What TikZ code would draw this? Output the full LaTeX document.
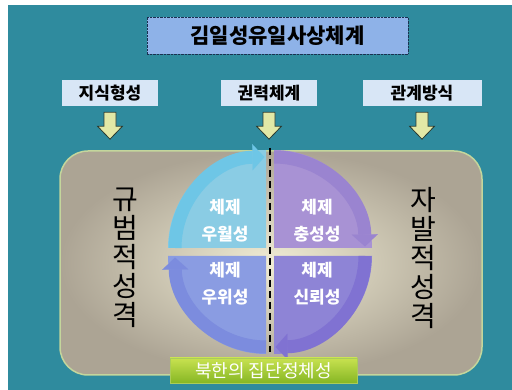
\documentclass[tikz,border=0pt]{standalone}
\usepackage{fontspec}
\setmainfont{Noto Sans CJK KR}
\usetikzlibrary{positioning,arrows.meta,calc}

\definecolor{sea}{HTML}{2F8B9E}
\definecolor{titlefill}{HTML}{8EB2E8}
\definecolor{titleline}{HTML}{1A3050}
\definecolor{labfill}{HTML}{D8E6F6}
\definecolor{arrfill}{HTML}{E2E8A6}
\definecolor{arrline}{HTML}{2A3A30}
\definecolor{frameline}{HTML}{C4D69C}
\definecolor{tlfill}{HTML}{8ACCE4}
\definecolor{tlrim}{HTML}{6EC6E6}
\definecolor{trfill}{HTML}{A892D4}
\definecolor{trrim}{HTML}{9A84D0}
\definecolor{brfill}{HTML}{8E84D6}
\definecolor{brrim}{HTML}{8072D2}
\definecolor{blfill}{HTML}{8A9CE2}
\definecolor{blrim}{HTML}{7C8CDE}

\tikzset{
  titlebox/.style={fill=titlefill, draw=titleline, densely dotted, minimum width=261, minimum height=37,
    inner sep=0, font=\fontsize{21}{21}\selectfont\bfseries},
  lab/.style={fill=labfill, minimum height=26, inner sep=0, font=\fontsize{17}{17}\selectfont\bfseries},
  blockarrow/.style={fill=arrfill, draw=arrline, line width=0.8, line join=miter},
  ring/.style={line width=13, -{Triangle[length=12,width=26,line width=0.1pt]}},
  quadtext/.style={text=white, align=center, font=\fontsize{17}{27}\selectfont\bfseries},
  sidetext/.style={align=center, font=\fontsize{28}{29}\selectfont},
  dashline/.style={line width=2.5, dash pattern=on 7 off 4},
}

\begin{document}
\begin{tikzpicture}[x=1pt,y=1pt]
  \useasboundingbox (0,0) rectangle (512,390);
  \fill[white] (0,0) rectangle (512,390);
  \fill[sea] (8,0) rectangle (512,385);

  % top row
  \node[titlebox] (title) at (277.5,354.5) {김일성유일사상체계};
  \node[lab, minimum width=96] (kn) at (110,297) {지식형성};
  \node[lab, minimum width=96] (pw) at (269,297) {권력체계};
  \node[lab, minimum width=119] (rl) at (422,297) {관계방식};
  \coordinate[below=6 of kn] (akn);
  \coordinate[below=6 of pw] (apw);
  \coordinate[below=6 of rl] (arl);
  \foreach \a in {akn,apw,arl}
    \draw[blockarrow] (\a) ++(-6,0) -- ++(12,0) -- ++(0,-14) -- ++(6.5,0) -- ++(-12.5,-13)
      -- ++(-12.5,13) -- ++(6.5,0) -- cycle;

  % frame
  \node[draw=frameline, line width=1.5, rounded corners=28, minimum width=422, minimum height=224,
    inner color={rgb,255:red,240;green,236;blue,212}, outer color={rgb,255:red,172;green,164;blue,148}]
    (frame) at (271,127) {};

  % circle of four parts
  \coordinate (c) at (270,138);
  \fill[tlfill] ([shift={(-4,4)}]c) -- ++(-98,0) arc[start angle=180,end angle=90,radius=98] -- cycle;
  \fill[trfill] ([shift={(4,4)}]c) -- ++(0,98) arc[start angle=90,end angle=0,radius=98] -- cycle;
  \fill[brfill] ([shift={(4,-4)}]c) -- ++(98,0) arc[start angle=0,end angle=-90,radius=98] -- cycle;
  \fill[blfill] ([shift={(-4,-4)}]c) -- ++(0,-98) arc[start angle=-90,end angle=-180,radius=98] -- cycle;
  \draw[ring, tlrim] ([shift={(-4,4)}]c) ++(-91,0) arc[start angle=180,end angle=91,radius=91];
  \draw[ring, trrim] ([shift={(4,4)}]c) ++(0,91) arc[start angle=90,end angle=1,radius=91];
  \draw[ring, brrim] ([shift={(4,-4)}]c) ++(91,0) arc[start angle=0,end angle=-89,radius=91];
  \draw[ring, blrim] ([shift={(-4,-4)}]c) ++(0,-91) arc[start angle=-90,end angle=-179,radius=91];

  \node[quadtext] (q1) at (225,169) {체제\\우월성};
  \node[quadtext] (q2) at (317,169) {체제\\충성성};
  \node[quadtext] (q3) at (225,106) {체제\\우위성};
  \node[quadtext] (q4) at (317,106) {체제\\신뢰성};

  \coordinate (dtop) at (270,242);
  \coordinate (dbot) at (270,38);
  \draw[dashline] (dtop) -- (dbot);

  \node[sidetext] (left) at (125,132) {규\\범\\적\\성\\격};
  \node[sidetext] (right) at (423,132) {자\\발\\적\\성\\격};

  % bottom bar
  \node[top color={rgb,255:red,200;green,226;blue,80}, bottom color={rgb,255:red,134;green,182;blue,36},
    draw={rgb,255:red,170;green,204;blue,90}, minimum width=187, minimum height=25, inner sep=0,
    text=white, font=\fontsize{18}{18}\selectfont] (bar) at (263.5,19.5) {북한의 집단정체성};
\end{tikzpicture}
\end{document}
